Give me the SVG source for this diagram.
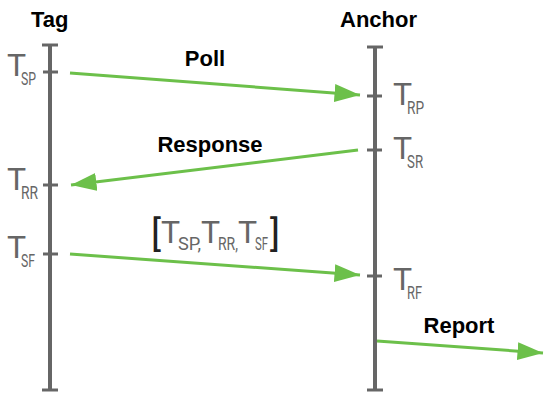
<svg xmlns="http://www.w3.org/2000/svg" width="550" height="403" viewBox="0 0 550 403">
<style>
.life{stroke:#666;stroke-width:4;fill:none}
.cap{stroke:#666;stroke-width:3;fill:none}
.msg{stroke:#6cc04a;stroke-width:3;fill:none}
.title{font-family:"Liberation Sans",Arial,sans-serif;font-weight:bold;font-size:22px;fill:#000}
.lab{font-family:Roboto,"DejaVu Sans Condensed",sans-serif;fill:#666}
.T{font-weight:400;font-size:32px}
.sub{font-weight:400;font-size:18px}
.br{font-weight:400;font-size:36px;fill:#222}
</style>
<defs>
<marker id="ah" markerWidth="8.5" markerHeight="6" refX="8.5" refY="3" orient="auto" markerUnits="strokeWidth">
<path d="M0,0 L8.5,3 L0,6 Z" fill="#6cc04a"/>
</marker>
</defs>
<g id="tag">
<text class="title" x="31" y="27">Tag</text>
<line class="life" x1="50" y1="45" x2="50" y2="390"/>
<line class="cap" x1="42" y1="45" x2="58" y2="45"/>
<line class="cap" x1="42" y1="390" x2="58" y2="390"/>
<line class="cap" x1="43" y1="72" x2="58" y2="72"/>
<line class="cap" x1="43" y1="185" x2="58" y2="185"/>
<line class="cap" x1="43" y1="254" x2="58" y2="254"/>
<text class="lab" x="7" y="76"><tspan class="T">T</tspan><tspan class="sub" dx="-5" dy="9" textLength="15" lengthAdjust="spacingAndGlyphs">SP</tspan></text>
<text class="lab" x="7" y="190"><tspan class="T">T</tspan><tspan class="sub" dx="-5" dy="9" textLength="17" lengthAdjust="spacingAndGlyphs">RR</tspan></text>
<text class="lab" x="7" y="258"><tspan class="T">T</tspan><tspan class="sub" dx="-5" dy="9" textLength="14" lengthAdjust="spacingAndGlyphs">SF</tspan></text>
</g>
<g id="anchor">
<text class="title" x="340" y="27">Anchor</text>
<line class="life" x1="375" y1="47" x2="375" y2="390"/>
<line class="cap" x1="367" y1="47" x2="383" y2="47"/>
<line class="cap" x1="367" y1="390" x2="383" y2="390"/>
<line class="cap" x1="367" y1="96" x2="382" y2="96"/>
<line class="cap" x1="367" y1="150" x2="382" y2="150"/>
<line class="cap" x1="367" y1="276" x2="382" y2="276"/>
<text class="lab" x="393" y="105"><tspan class="T">T</tspan><tspan class="sub" dx="-5" dy="9" textLength="17" lengthAdjust="spacingAndGlyphs">RP</tspan></text>
<text class="lab" x="393" y="159"><tspan class="T">T</tspan><tspan class="sub" dx="-5" dy="9" textLength="16" lengthAdjust="spacingAndGlyphs">SR</tspan></text>
<text class="lab" x="393" y="290"><tspan class="T">T</tspan><tspan class="sub" dx="-5" dy="9" textLength="15" lengthAdjust="spacingAndGlyphs">RF</tspan></text>
</g>
<g id="connectors">
<line class="msg" x1="70" y1="73" x2="360" y2="95" marker-end="url(#ah)"/>
<line class="msg" x1="358" y1="150" x2="71" y2="185" marker-end="url(#ah)"/>
<line class="msg" x1="70" y1="254" x2="360" y2="275" marker-end="url(#ah)"/>
<line class="msg" x1="377" y1="341" x2="543" y2="353" marker-end="url(#ah)"/>
</g>
<g id="labels">
<text class="title" x="205" y="66" text-anchor="middle">Poll</text>
<text class="title" x="210" y="152" text-anchor="middle">Response</text>
<text class="title" x="459" y="333" text-anchor="middle">Report</text>
<text class="lab"><tspan class="br" x="151" y="246" textLength="10" lengthAdjust="spacingAndGlyphs">[</tspan><tspan class="T" x="161" y="243">T</tspan><tspan class="sub" x="178" y="250" textLength="23" lengthAdjust="spacingAndGlyphs">SP,</tspan><tspan class="T" x="201" y="243">T</tspan><tspan class="sub" x="218" y="250" textLength="20" lengthAdjust="spacingAndGlyphs">RR,</tspan><tspan class="T" x="238" y="243">T</tspan><tspan class="sub" x="255" y="250" textLength="13" lengthAdjust="spacingAndGlyphs">SF</tspan><tspan class="br" x="270" y="246" textLength="10" lengthAdjust="spacingAndGlyphs">]</tspan></text>
</g>
</svg>
